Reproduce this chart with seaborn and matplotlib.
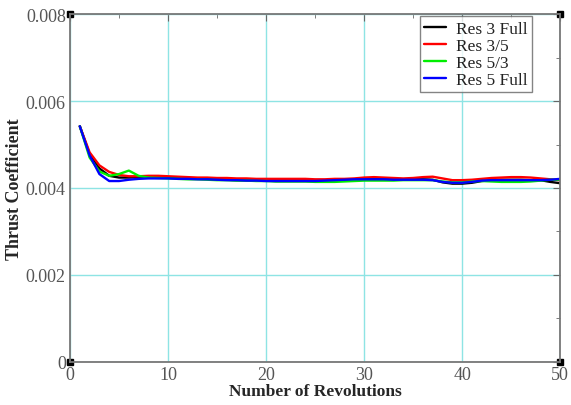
import numpy as np
import pandas as pd
import matplotlib
matplotlib.use("Agg")
import matplotlib.pyplot as plt
import seaborn as sns

# Revolutions and thrust coefficient per case
revs = list(range(1, 51))

res3_full = [0.00542, 0.00478, 0.00445, 0.00428, 0.00424, 0.00424, 0.00425, 0.00425, 0.00425, 0.00424,
             0.00423, 0.00422, 0.00422, 0.00421, 0.00420, 0.00419, 0.00418, 0.00418, 0.00417, 0.00417,
             0.00416, 0.00416, 0.00416, 0.00416, 0.00416, 0.00416, 0.00417, 0.00418, 0.00419, 0.00420,
             0.00421, 0.00421, 0.00420, 0.00420, 0.00420, 0.00420, 0.00419, 0.00413, 0.00410, 0.00410,
             0.00412, 0.00416, 0.00418, 0.00419, 0.00419, 0.00419, 0.00418, 0.00418, 0.00414, 0.00411]
res3_5 = [0.00542, 0.00482, 0.00452, 0.00437, 0.00430, 0.00427, 0.00427, 0.00428, 0.00428, 0.00427,
          0.00426, 0.00425, 0.00424, 0.00424, 0.00423, 0.00423, 0.00422, 0.00422, 0.00421, 0.00421,
          0.00421, 0.00421, 0.00421, 0.00421, 0.00420, 0.00420, 0.00421, 0.00421, 0.00422, 0.00424,
          0.00425, 0.00424, 0.00423, 0.00422, 0.00423, 0.00425, 0.00426, 0.00422, 0.00418, 0.00418,
          0.00419, 0.00421, 0.00423, 0.00424, 0.00425, 0.00425, 0.00424, 0.00422, 0.00420, 0.00418]
res5_3 = [0.00542, 0.00470, 0.00438, 0.00428, 0.00432, 0.00440, 0.00428, 0.00424, 0.00423, 0.00422,
          0.00421, 0.00420, 0.00420, 0.00419, 0.00418, 0.00418, 0.00417, 0.00417, 0.00416, 0.00416,
          0.00415, 0.00415, 0.00415, 0.00415, 0.00414, 0.00414, 0.00414, 0.00415, 0.00416, 0.00417,
          0.00417, 0.00417, 0.00417, 0.00418, 0.00418, 0.00418, 0.00418, 0.00415, 0.00413, 0.00413,
          0.00415, 0.00416, 0.00415, 0.00414, 0.00414, 0.00414, 0.00415, 0.00417, 0.00419, 0.00419]
res5_full = [0.00542, 0.00475, 0.00432, 0.00416, 0.00416, 0.00419, 0.00421, 0.00422, 0.00422, 0.00422,
             0.00421, 0.00421, 0.00420, 0.00420, 0.00419, 0.00418, 0.00418, 0.00417, 0.00417, 0.00416,
             0.00416, 0.00416, 0.00416, 0.00416, 0.00416, 0.00417, 0.00418, 0.00419, 0.00420, 0.00420,
             0.00420, 0.00420, 0.00419, 0.00419, 0.00419, 0.00419, 0.00418, 0.00414, 0.00412, 0.00412,
             0.00414, 0.00417, 0.00418, 0.00418, 0.00418, 0.00418, 0.00418, 0.00418, 0.00419, 0.00421]

labels = ["Res 3 Full", "Res 3/5", "Res 5/3", "Res 5 Full"]
colors = ["#000000", "#ff0000", "#00ee00", "#0000ff"]

df = pd.DataFrame({
    "rev": revs * 4,
    "ct": res3_full + res3_5 + res5_3 + res5_full,
    "case": sum([[lab] * len(revs) for lab in labels], []),
})

sns.set_style("white")
plt.rcParams["font.family"] = ["Liberation Serif", "DejaVu Serif"]

fig = plt.figure(figsize=(5.71, 4.06), dpi=100)
ax = fig.add_axes([0.1226, 0.106, 0.8584, 0.857])

sns.lineplot(data=df, x="rev", y="ct", hue="case", palette=dict(zip(labels, colors)),
             hue_order=labels, linewidth=1.7, ax=ax)

ax.set_xlim(0, 50)
ax.set_ylim(0, 0.008)
ax.set_xticks([0, 10, 20, 30, 40, 50])
ax.set_xticks([5, 15, 25, 35, 45], minor=True)
ax.set_yticks([0, 0.002, 0.004, 0.006, 0.008])
ax.set_yticklabels(["0", "0.002", "0.004", "0.006", "0.008"])
ax.set_yticks([0.001, 0.003, 0.005, 0.007], minor=True)
ax.grid(True, which="major", color="#8ee4e4", linewidth=1.0)
ax.set_axisbelow(True)
ax.tick_params(which="both", direction="in", top=True, right=True, colors="#666666",
               labelcolor="#555555", labelsize=13)
ax.tick_params(axis="y", pad=3)
ax.tick_params(axis="x", pad=3)
ax.tick_params(which="major", length=5)
ax.tick_params(which="minor", length=3)
for sp in ax.spines.values():
    sp.set_color("#777777")
    sp.set_linewidth(1.3)

# corner squares
ax.plot([0, 0, 1, 1], [0, 1, 0, 1], "s", color="black", markersize=5,
        transform=ax.transAxes, clip_on=False)

ax.set_xlabel("Number of Revolutions", fontsize=12.5, fontweight="bold", labelpad=0)
ax.set_ylabel("Thrust Coefficient", fontsize=13, fontweight="bold", labelpad=2)

leg = ax.legend(loc="upper right", bbox_to_anchor=(0.943, 0.994), fontsize=12.5, frameon=True,
                fancybox=False, handlelength=1.25, borderpad=0.25, labelspacing=0.05,
                handletextpad=0.6, borderaxespad=0)
leg.get_frame().set_edgecolor("#666666")
leg.get_frame().set_linewidth(1.0)
for t in leg.get_texts():
    t.set_color("#222222")

plt.savefig("out.png", dpi=100)
plt.close()
